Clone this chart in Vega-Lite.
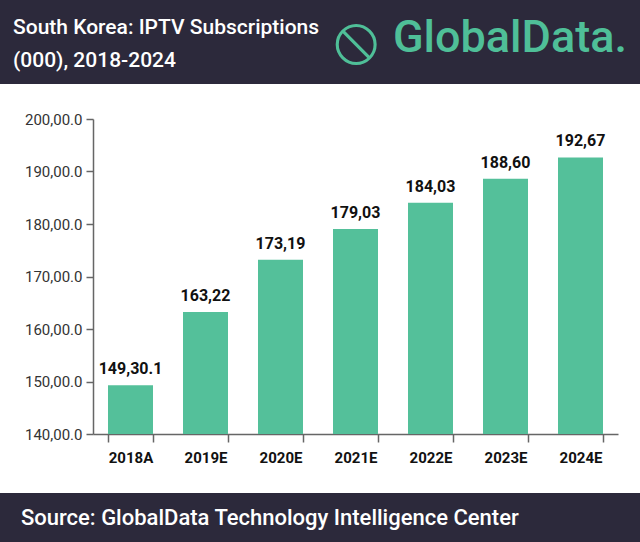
{
  "$schema": "https://vega.github.io/schema/vega-lite/v6.json",
  "padding": 0,
  "background": "white",
  "spacing": 28,
  "config": {
    "view": {"stroke": null},
    "font": "Roboto"
  },
  "vconcat": [
    {
      "width": 640,
      "height": 84,
      "view": {"fill": "#2c293b", "stroke": null},
      "encoding": {
        "x": {
          "field": "part",
          "type": "nominal",
          "scale": {"type": "point", "domain": ["title", "logo"], "padding": 0.0212},
          "axis": null
        }
      },
      "layer": [
        {
          "data": {"values": [{"part": "title", "text": "South Korea: IPTV Subscriptions\n(000), 2018-2024"}]},
          "mark": {
            "type": "text",
            "align": "left",
            "baseline": "middle",
            "lineBreak": "\n",
            "lineHeight": 33,
            "dy": -14,
            "fontSize": 21,
            "fontWeight": 500,
            "color": "white"
          },
          "encoding": {"text": {"field": "text"}}
        },
        {
          "data": {"values": [{"part": "logo", "text": "GlobalData."}]},
          "mark": {
            "type": "text",
            "align": "right",
            "baseline": "middle",
            "dy": -4,
            "fontSize": 45,
            "fontWeight": 500,
            "color": "#4fbf98"
          },
          "encoding": {"text": {"field": "text"}}
        },
        {
          "data": {"values": [{"part": "logo", "text": "⦸"}]},
          "mark": {
            "type": "text",
            "align": "center",
            "baseline": "middle",
            "dx": -271,
            "fontSize": 68,
            "color": "#4fbf98"
          },
          "encoding": {"text": {"field": "text"}}
        }
      ]
    },
    {
      "width": 640,
      "height": 315,
      "data": {
        "values": [
          {"year": "2018A", "value": 149.301, "label": "149,30.1"},
          {"year": "2019E", "value": 163.22, "label": "163,22"},
          {"year": "2020E", "value": 173.19, "label": "173,19"},
          {"year": "2021E", "value": 179.03, "label": "179,03"},
          {"year": "2022E", "value": 184.03, "label": "184,03"},
          {"year": "2023E", "value": 188.60, "label": "188,60"},
          {"year": "2024E", "value": 192.67, "label": "192,67"}
        ]
      },
      "encoding": {
        "x": {
          "field": "year",
          "type": "nominal",
          "sort": null,
          "scale": {"range": [93, 618], "paddingInner": 0.4, "paddingOuter": 0.2},
          "axis": {
            "title": null,
            "labelAngle": 0,
            "labelFontSize": 15,
            "labelFontWeight": "bold",
            "labelColor": "#111111",
            "labelPadding": 8,
            "tickBand": "extent",
            "tickSize": 8,
            "tickWidth": 1.5,
            "tickColor": "#666666",
            "domainColor": "#666666",
            "domainWidth": 1.5
          }
        },
        "y": {
          "field": "value",
          "type": "quantitative",
          "scale": {"domain": [140, 200], "nice": false, "zero": false},
          "axis": {
            "title": null,
            "grid": false,
            "offset": -93,
            "values": [140, 150, 160, 170, 180, 190, 200],
            "labelExpr": "datum.value + ',00.0'",
            "labelFontSize": 15,
            "labelColor": "#333333",
            "labelPadding": 4,
            "tickSize": 7,
            "tickWidth": 1.5,
            "tickColor": "#666666",
            "domainColor": "#666666",
            "domainWidth": 1.5
          }
        }
      },
      "layer": [
        {
          "mark": {"type": "bar", "color": "#54c09a"},
          "encoding": {"y2": {"datum": 140}}
        },
        {
          "mark": {
            "type": "text",
            "baseline": "bottom",
            "dy": -8,
            "fontSize": 16,
            "fontWeight": "bold",
            "color": "#111111"
          },
          "encoding": {"text": {"field": "label"}}
        }
      ]
    },
    {
      "width": 640,
      "height": 49,
      "view": {"fill": "#2c293b", "stroke": null},
      "data": {"values": [{"part": "source", "text": "Source:  GlobalData Technology Intelligence Center"}]},
      "mark": {
        "type": "text",
        "align": "left",
        "baseline": "middle",
        "fontSize": 22,
        "fontWeight": 500,
        "color": "white"
      },
      "encoding": {
        "x": {
          "field": "part",
          "type": "nominal",
          "scale": {"type": "point", "domain": ["source", "end"], "padding": 0.0351},
          "axis": null
        },
        "text": {"field": "text"}
      }
    }
  ]
}
